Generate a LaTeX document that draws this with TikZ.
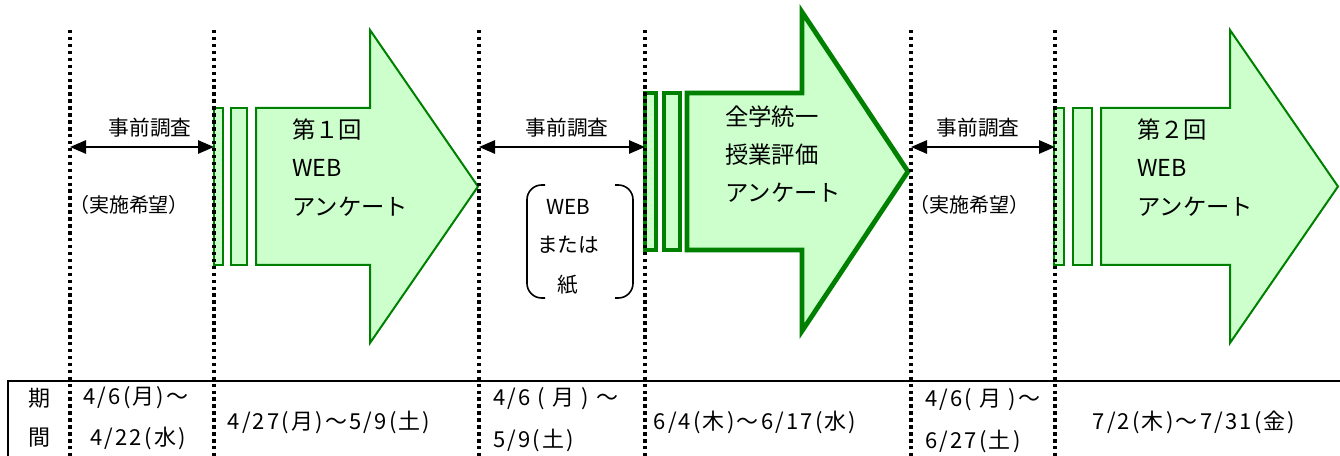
\documentclass[tikz,border=0pt]{standalone}
\usepackage{fontspec}
\setmainfont{Noto Sans CJK JP}
\newfontfamily\tabfont[LetterSpace=10]{Noto Sans CJK JP}
\usetikzlibrary{arrows.meta}
\definecolor{gfill}{HTML}{CCFFCC}
\definecolor{gline}{HTML}{008000}
\begin{document}
\begin{tikzpicture}[x=0.75pt,y=-0.75pt,
  dotline/.style={line width=2.6pt, dash pattern=on 2.6pt off 2.6pt},
  greenthin/.style={draw=gline, fill=gfill, line width=1.5pt, line join=miter},
  greenthick/.style={draw=gline, fill=gfill, line width=3.6pt, line join=miter, miter limit=20},
  dimarrow/.style={{Triangle[length=12pt,width=10pt]}-{Triangle[length=12pt,width=10pt]}, line width=1.3pt},
  arrtxt/.style={anchor=west, font=\fontsize{17.5}{20}\selectfont, inner sep=0pt},
  lbl/.style={font=\fontsize{15.5}{18}\selectfont, inner sep=0pt},
  small/.style={font=\fontsize{15}{17}\selectfont, inner sep=0pt},
  tabtxt/.style={font=\tabfont\fontsize{16.5}{18}\selectfont, inner sep=0pt},
  bracket/.style={line width=1.2pt, rounded corners=11pt},
]
\useasboundingbox (0,0) rectangle (1340,456);
\begin{scope}
\clip (0,0) rectangle (1340,456);

% ---- arrow 1 ----
\draw[greenthin] (214,108) rectangle (223,265);
\draw[greenthin] (231,108) rectangle (247,265);
\draw[greenthin] (256,108) -- (370,108) -- (370,30) -- (478,186.5) -- (370,343) -- (370,265) -- (256,265) -- cycle;
\node[arrtxt] (a1t1) at (292,130) {第１回};
\node[arrtxt] (a1t2) at (292,168) {WEB};
\node[arrtxt] (a1t3) at (292,207) {アンケート};

% ---- arrow 2 (thick) ----
\draw[greenthick] (645,93) rectangle (656,250);
\draw[greenthick] (664,93) rectangle (680,250);
\draw[greenthick] (687,93) -- (802,93) -- (802,12) -- (908,171.5) -- (802,331) -- (802,250) -- (687,250) -- cycle;
\node[arrtxt] (a2t1) at (725,117) {全学統一};
\node[arrtxt] (a2t2) at (725,155) {授業評価};
\node[arrtxt] (a2t3) at (725,193) {アンケート};

% ---- arrow 3 ----
\draw[greenthin] (1054,108) rectangle (1064,265);
\draw[greenthin] (1073,108) rectangle (1092,265);
\draw[greenthin] (1101,108) -- (1230,108) -- (1230,30) -- (1338,186.5) -- (1230,343) -- (1230,265) -- (1101,265) -- cycle;
\node[arrtxt] (a3t1) at (1137,130) {第２回};
\node[arrtxt] (a3t2) at (1137,168) {WEB};
\node[arrtxt] (a3t3) at (1137,207) {アンケート};

% ---- table ----
\draw[line width=1.5pt] (8,470) -- (8,381) -- (1350,381);

% ---- dotted lines ----
\foreach \n/\x in {1/70,2/214,3/479,4/645,5/911,6/1055}{
  \coordinate (vt\n) at (\x,30);
  \coordinate (vb\n) at (\x,460);
  \coordinate (vm\n) at (\x,147);
}
\foreach \n in {1,...,6}{ \draw[dotline] (vt\n) -- (vb\n); }

% ---- dimension arrows ----
\draw[dimarrow] (vm1) -- (vm2);
\draw[dimarrow] (vm3) -- (vm4);
\draw[dimarrow] (vm5) -- (vm6);
\node[lbl] (d1) at (150,128) {事前調査};
\node[lbl] (d2) at (567,128) {事前調査};
\node[lbl] (d3) at (978,128) {事前調査};
\node[small] (h1) at (129,205) {（実施希望）};
\node[small] (h3) at (969,205) {（実施希望）};

% ---- bracket box ----
\draw[bracket] (545,185) -- (527,185) -- (527,298) -- (545,298);
\draw[bracket] (615,185) -- (633,185) -- (633,298) -- (615,298);
\node[lbl] (b1) at (568,207) {WEB};
\node[lbl] (b2) at (568,245) {または};
\node[lbl] (b3) at (568,285) {紙};

% ---- table texts ----
\node[tabtxt] (k1) at (39,398) {期};
\node[tabtxt] (k2) at (39,438) {間};
\node[tabtxt] (p1a) at (136,398) {4/6(月)～};
\node[tabtxt] (p1b) at (138,438) {4/22(水)};
\node[tabtxt] (p2) at (329,422) {4/27(月)～5/9(土)};
\node[tabtxt, anchor=west] (p3a) at (493,399) {4/6 ( 月 ) ～};
\node[tabtxt, anchor=west] (p3b) at (493,440) {5/9(土)};
\node[tabtxt] (p4) at (755,422) {6/4(木)～6/17(水)};
\node[tabtxt, anchor=west] (p5a) at (925,400) {4/6( 月 )～};
\node[tabtxt, anchor=west] (p5b) at (925,441) {6/27(土)};
\node[tabtxt] (p6) at (1194,422) {7/2(木)～7/31(金)};
\end{scope}
\end{tikzpicture}
\end{document}
